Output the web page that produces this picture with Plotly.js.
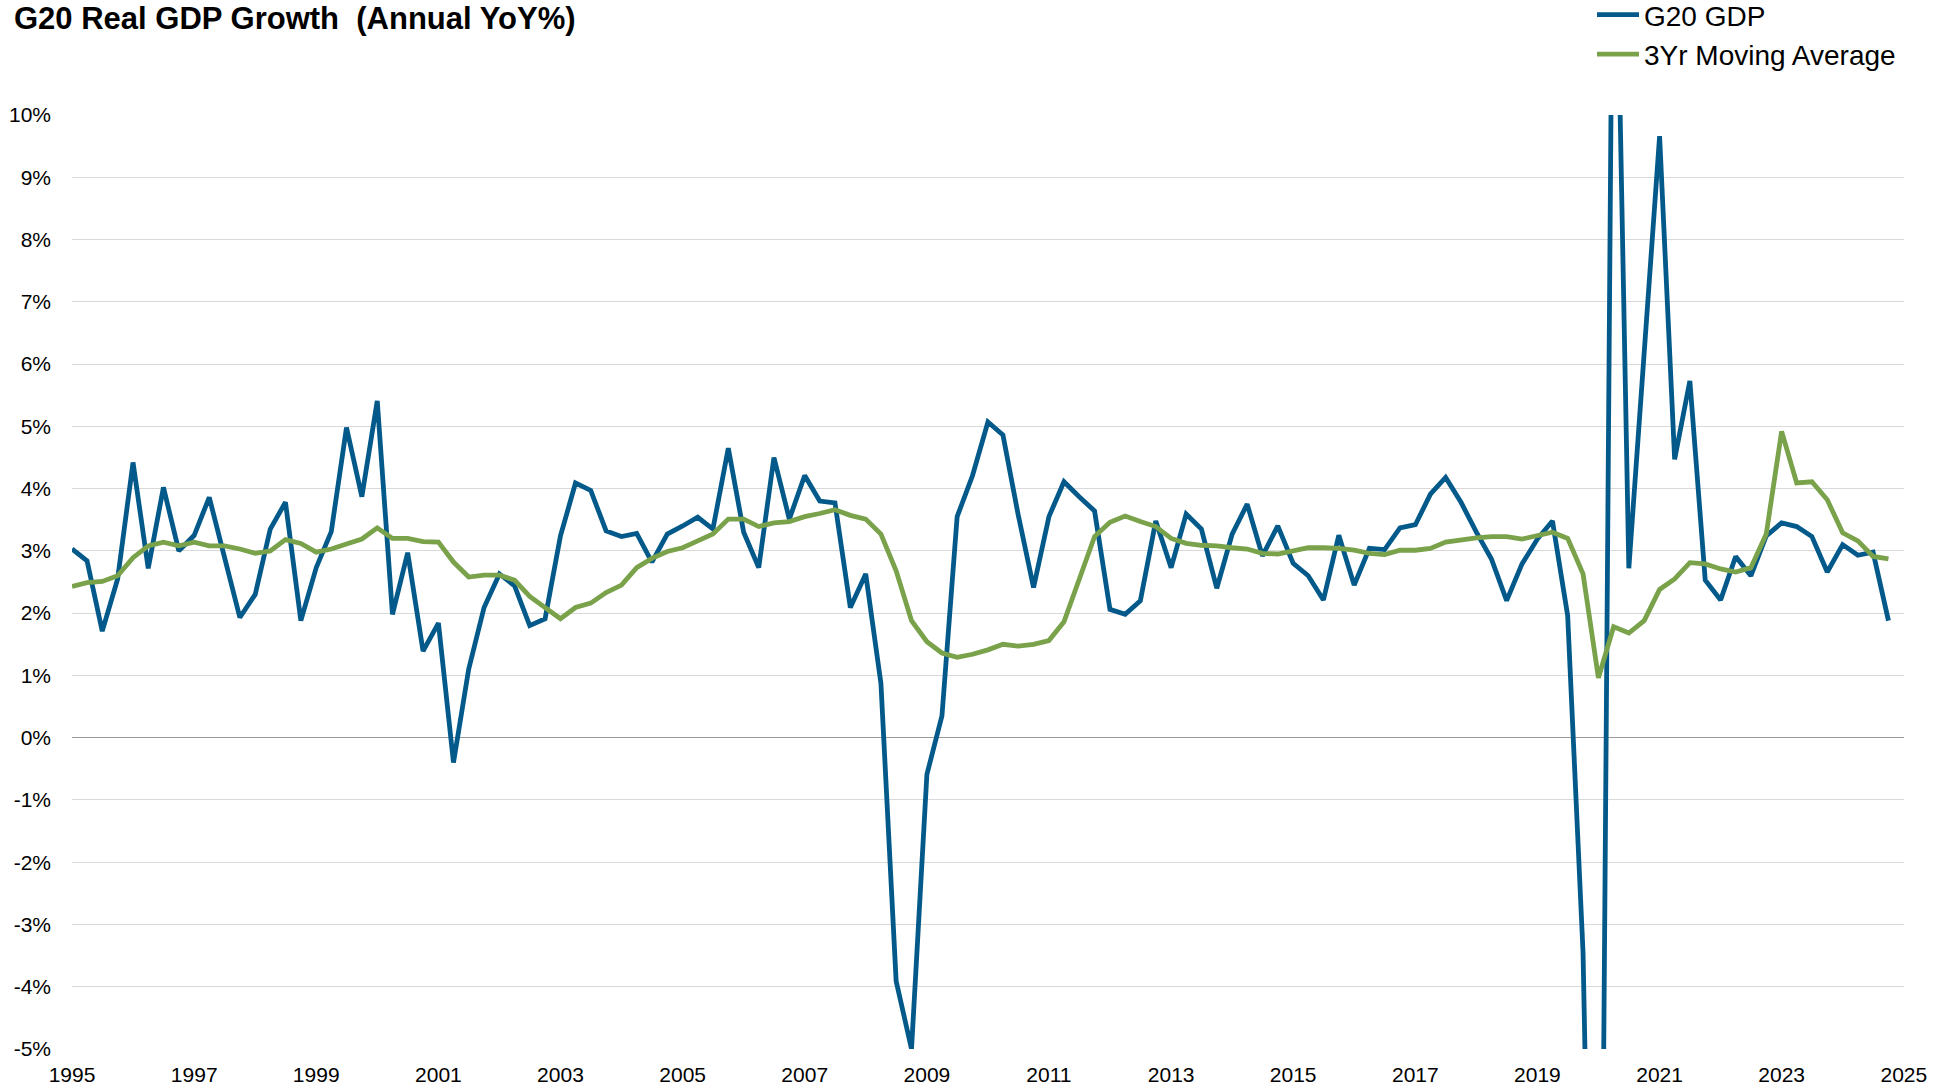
<!DOCTYPE html>
<html>
<head>
<meta charset="utf-8">
<script src="https://cdn.plot.ly/plotly-3.0.1.min.js"></script>
<style>html,body{margin:0;padding:0;background:#fff;}#chart{width:1954px;height:1089px;}</style>
</head>
<body>
<div id="chart"></div>
<script>
// Quarterly observations, 1995 Q1 .. 2024 Q4
const startYear = 1995;
const endYear = 2024;

const g20Gdp = [
  3.03, 2.84, 1.71, 2.55,   // 1995
  4.42, 2.72, 4.02, 3.00,   // 1996
  3.25, 3.86, 2.90, 1.93,   // 1997
  2.30, 3.35, 3.78, 1.88,   // 1998
  2.73, 3.31, 4.98, 3.87,   // 1999
  5.41, 1.98, 2.97, 1.39,   // 2000
  1.84, -0.40, 1.10, 2.09,  // 2001
  2.63, 2.44, 1.80, 1.91,   // 2002
  3.24, 4.09, 3.97, 3.32,   // 2003
  3.23, 3.28, 2.82, 3.27,   // 2004
  3.40, 3.54, 3.35, 4.65,   // 2005
  3.30, 2.73, 4.50, 3.51,   // 2006
  4.21, 3.80, 3.77, 2.09,   // 2007
  2.63, 0.87, -3.91, -5.00, // 2008
  -0.59, 0.35, 3.55, 4.21,  // 2009
  5.07, 4.86, 3.58, 2.41,   // 2010
  3.55, 4.11, 3.87, 3.64,   // 2011
  2.06, 1.98, 2.20, 3.48,   // 2012
  2.73, 3.59, 3.35, 2.40,   // 2013
  3.27, 3.75, 2.92, 3.40,   // 2014
  2.80, 2.60, 2.21, 3.25,   // 2015
  2.45, 3.04, 3.02, 3.37,   // 2016
  3.42, 3.91, 4.18, 3.78,   // 2017
  3.30, 2.87, 2.20, 2.79,   // 2018
  3.19, 3.48, 1.96, -3.45,  // 2019
  -16.0, 15.5, 2.72, 6.20,  // 2020
  9.66, 4.47, 5.73, 2.53,   // 2021
  2.21, 2.91, 2.60, 3.24,   // 2022
  3.45, 3.39, 3.23, 2.66,   // 2023
  3.10, 2.93, 2.98, 1.88    // 2024
];

const movingAvg3Yr = [
  2.43, 2.49, 2.51, 2.60,   // 1995
  2.89, 3.08, 3.14, 3.08,   // 1996
  3.14, 3.08, 3.08, 3.03,   // 1997
  2.96, 3.00, 3.18, 3.12,   // 1998
  2.98, 3.03, 3.11, 3.19,   // 1999
  3.37, 3.20, 3.20, 3.15,   // 2000
  3.14, 2.82, 2.58, 2.61,   // 2001
  2.61, 2.53, 2.27, 2.10,   // 2002
  1.91, 2.09, 2.16, 2.33,   // 2003
  2.45, 2.73, 2.88, 2.99,   // 2004
  3.05, 3.16, 3.27, 3.51,   // 2005
  3.51, 3.39, 3.45, 3.47,   // 2006
  3.55, 3.60, 3.66, 3.57,   // 2007
  3.51, 3.27, 2.68, 1.88,   // 2008
  1.54, 1.36, 1.29, 1.34,   // 2009
  1.41, 1.50, 1.47, 1.50,   // 2010
  1.56, 1.86, 2.55, 3.23,   // 2011
  3.46, 3.56, 3.47, 3.39,   // 2012
  3.20, 3.12, 3.09, 3.08,   // 2013
  3.05, 3.03, 2.96, 2.95,   // 2014
  3.00, 3.05, 3.05, 3.04,   // 2015
  3.01, 2.96, 2.94, 3.01,   // 2016
  3.01, 3.04, 3.14, 3.18,   // 2017
  3.21, 3.23, 3.23, 3.19,   // 2018
  3.25, 3.30, 3.20, 2.63,   // 2019
  0.96, 1.78, 1.68, 1.88,   // 2020
  2.38, 2.55, 2.81, 2.79,   // 2021
  2.71, 2.66, 2.73, 3.27,   // 2022
  4.92, 4.09, 4.11, 3.82,   // 2023
  3.29, 3.16, 2.91, 2.87    // 2024
];

const xTickYears = [1995, 1997, 1999, 2001, 2003, 2005, 2007, 2009, 2011, 2013, 2015, 2017, 2019, 2021, 2023, 2025];
const yTickVals = [-5, -4, -3, -2, -1, 0, 1, 2, 3, 4, 5, 6, 7, 8, 9, 10];
const yTickText = ['-5%', '-4%', '-3%', '-2%', '-1%', '0%', '1%', '2%', '3%', '4%', '5%', '6%', '7%', '8%', '9%', '10%'];

const seriesNames = ['G20 GDP', '3Yr Moving Average'];
const titleText = 'G20 Real GDP Growth \u00a0(Annual YoY%)';

// quarter start dates
const quarterMonths = ['01', '04', '07', '10'];
const dates = [];
for (let y = startYear; y <= endYear; y++) {
  for (const m of quarterMonths) dates.push(y + '-' + m + '-01');
}

const FONT = 'Liberation Sans, Arial, sans-serif';

const traces = [
  {
    x: dates, y: g20Gdp, type: 'scatter', mode: 'lines', name: seriesNames[0],
    line: {color: '#035a8a', width: 4.8}, legendgroup: 'a', hoverinfo: 'skip'
  },
  {
    x: dates, y: movingAvg3Yr, type: 'scatter', mode: 'lines', name: seriesNames[1],
    line: {color: '#79a24a', width: 4.8}, legendgroup: 'b', hoverinfo: 'skip'
  }
];

const layout = {
  width: 1954, height: 1089,
  margin: {l: 72, r: 50, t: 115, b: 40, pad: 0, autoexpand: false},
  paper_bgcolor: '#ffffff', plot_bgcolor: '#ffffff',
  font: {family: FONT, color: '#000000', size: 20},
  title: {
    text: titleText,
    xref: 'container', yref: 'container',
    x: 14 / 1954, xanchor: 'left',
    y: 1 - 18.5 / 1089, yanchor: 'middle',
    font: {family: FONT, size: 31, weight: 'bold', color: '#000000'}
  },
  showlegend: true,
  legend: {
    xref: 'container', yref: 'paper',
    x: 1592 / 1954, xanchor: 'left',
    y: 1 + 125 / 934, yanchor: 'top',
    font: {family: FONT, size: 28, color: '#000000'},
    bgcolor: 'rgba(0,0,0,0)', borderwidth: 0,
    tracegroupgap: 4, traceorder: 'normal', itemwidth: 42
  },
  xaxis: {
    type: 'date',
    range: ['1995-01-01', '2025-01-02'],
    tickmode: 'array',
    tickvals: xTickYears.map(y => y + '-01-01'),
    ticktext: xTickYears.map(String),
    showgrid: false, zeroline: false, showline: false,
    ticks: '', ticklabelstandoff: 11,
    tickfont: {family: FONT, size: 21, color: '#000000'},
    fixedrange: true
  },
  yaxis: {
    range: [-5, 10],
    tickmode: 'array', tickvals: yTickVals, ticktext: yTickText,
    showgrid: true, gridcolor: '#d9d9d9', gridwidth: 1,
    zeroline: true, zerolinecolor: '#9a9a9a', zerolinewidth: 1.6,
    showline: false, ticks: '', ticklabelstandoff: 20,
    tickfont: {family: FONT, size: 21, color: '#000000'},
    fixedrange: true
  }
};

Plotly.newPlot('chart', traces, layout, {staticPlot: true, displayModeBar: false});
</script>
</body>
</html>
